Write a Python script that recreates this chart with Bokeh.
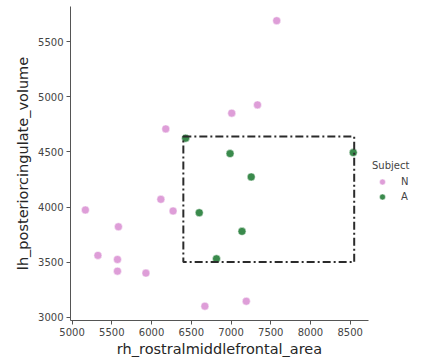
from bokeh.plotting import figure
from bokeh.models import ColumnDataSource, Legend, LegendItem, FixedTicker, Range1d
from bokeh.embed import file_html
from bokeh.resources import INLINE

# Data
n_x = [7575, 7009, 7333, 6179, 5167, 6117, 6271, 5583, 5325, 5571, 5571, 5929, 6671, 7192]
n_y = [5691, 4852, 4927, 4709, 3973, 4070, 3964, 3821, 3561, 3524, 3418, 3400, 3100, 3145]
a_x = [6429, 6988, 8538, 7254, 6600, 7138, 6817]
a_y = [4625, 4485, 4494, 4273, 3948, 3779, 3530]
box_x = [6400, 8550]
box_y = [3500, 4640]
x_ticks = [5000, 5500, 6000, 6500, 7000, 7500, 8000, 8500]
y_ticks = [3000, 3500, 4000, 4500, 5000, 5500]
groups = ["N", "A"]

FONT = "DejaVu Sans"
PINK = "#de9ed8"
GREEN = "#3a8a4c"

p = figure(frame_width=298, frame_height=314, output_backend="svg", toolbar_location=None,
           x_range=Range1d(4980, 8730), y_range=Range1d(2970, 5820),
           min_border_left=70, min_border_right=55, min_border_top=6, min_border_bottom=42)
p.background_fill_color = "white"
p.border_fill_color = "white"
p.outline_line_color = None
p.xgrid.grid_line_color = None
p.ygrid.grid_line_color = None

src_n = ColumnDataSource(dict(x=n_x, y=n_y))
src_a = ColumnDataSource(dict(x=a_x, y=a_y))
r_n = p.scatter("x", "y", source=src_n, size=8, fill_color=PINK, line_color="white", line_width=0.5)
r_a = p.scatter("x", "y", source=src_a, size=8, fill_color=GREEN, line_color="white", line_width=0.5)

p.quad(left=[box_x[0]], right=[box_x[1]], bottom=[box_y[0]], top=[box_y[1]],
       fill_alpha=0, line_color="#2b2b2b", line_width=2, line_dash="8 3 2 3")

for ax, ticks in ((p.xaxis[0], x_ticks), (p.yaxis[0], y_ticks)):
    ax.ticker = FixedTicker(ticks=ticks)
    ax.minor_tick_line_color = None
    ax.major_tick_in = 0
    ax.major_tick_out = 4
    ax.axis_line_color = "#555555"
    ax.major_tick_line_color = "#555555"
    ax.major_label_text_font = FONT
    ax.major_label_text_font_size = "10px"
    ax.major_label_text_color = "#444444"
    ax.axis_label_text_font = FONT
    ax.axis_label_text_font_size = "14.5px"
    ax.axis_label_text_font_style = "normal"
    ax.axis_label_text_color = "#262626"
    ax.major_label_standoff = 3

p.xaxis.axis_label = "rh_rostralmiddlefrontal_area"
p.yaxis.axis_label = "lh_posteriorcingulate_volume"
p.xaxis.axis_label_standoff = 2
p.yaxis.axis_label_standoff = 4

legend = Legend(items=[LegendItem(label=groups[0], renderers=[r_n]),
                       LegendItem(label=groups[1], renderers=[r_a])],
                title="Subject", location=(4, 116))
legend.title_text_font = FONT
legend.title_text_font_size = "10px"
legend.title_text_font_style = "normal"
legend.title_text_color = "#444444"
legend.label_text_font = FONT
legend.label_text_font_size = "10px"
legend.label_text_color = "#444444"
legend.border_line_color = None
legend.background_fill_alpha = 0
legend.margin = 0
legend.padding = 4
legend.glyph_width = 20
legend.glyph_height = 15
legend.label_height = 15
legend.label_standoff = 9
legend.spacing = 0
legend.title_standoff = 3
p.add_layout(legend, "right")

open("out.html", "w").write(file_html(p, INLINE))
